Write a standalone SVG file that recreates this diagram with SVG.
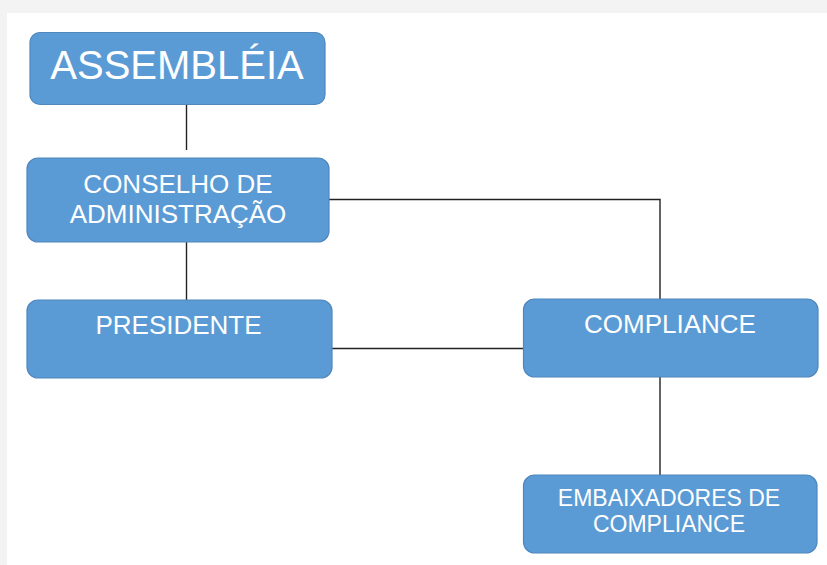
<svg xmlns="http://www.w3.org/2000/svg" width="827" height="565" viewBox="0 0 827 565">
<style>
.box{fill:#5b9bd5;stroke:#4f87bd;stroke-width:1.2}
.t{font-family:"Liberation Sans",Arial,sans-serif;fill:#ffffff;text-anchor:middle}
.c{fill:none;stroke:#222222;stroke-width:1.4}
</style>
<rect x="0" y="0" width="827" height="565" fill="#f3f3f3"/>
<rect x="7" y="13" width="820" height="552" fill="#ffffff"/>
<g id="connectors">
<line class="c" x1="186.5" y1="104" x2="186.5" y2="150"/>
<line class="c" x1="186.5" y1="242" x2="186.5" y2="300"/>
<polyline class="c" points="329,199.5 660,199.5 660,299"/>
<line class="c" x1="332" y1="348.5" x2="524" y2="348.5"/>
<line class="c" x1="660" y1="377" x2="660" y2="475"/>
</g>
<g id="assembleia">
<rect class="box" x="30" y="32.5" width="295" height="72" rx="10"/>
<text class="t" x="177" y="79" font-size="40">ASSEMBLÉIA</text>
</g>
<g id="conselho">
<rect class="box" x="27" y="158" width="302" height="84" rx="11"/>
<text class="t" x="178" y="193" font-size="26">CONSELHO DE</text>
<text class="t" x="178" y="223" font-size="26">ADMINISTRAÇÃO</text>
</g>
<g id="presidente">
<rect class="box" x="27" y="300" width="305" height="78" rx="11"/>
<text class="t" x="178.5" y="334" font-size="26">PRESIDENTE</text>
</g>
<g id="compliance">
<rect class="box" x="523.5" y="299" width="294.5" height="78" rx="11"/>
<text class="t" x="670" y="333" font-size="26">COMPLIANCE</text>
</g>
<g id="embaixadores">
<rect class="box" x="523.5" y="475" width="293.5" height="78" rx="11"/>
<text class="t" x="669" y="506" font-size="23">EMBAIXADORES DE</text>
<text class="t" x="669" y="532" font-size="23">COMPLIANCE</text>
</g>
</svg>
